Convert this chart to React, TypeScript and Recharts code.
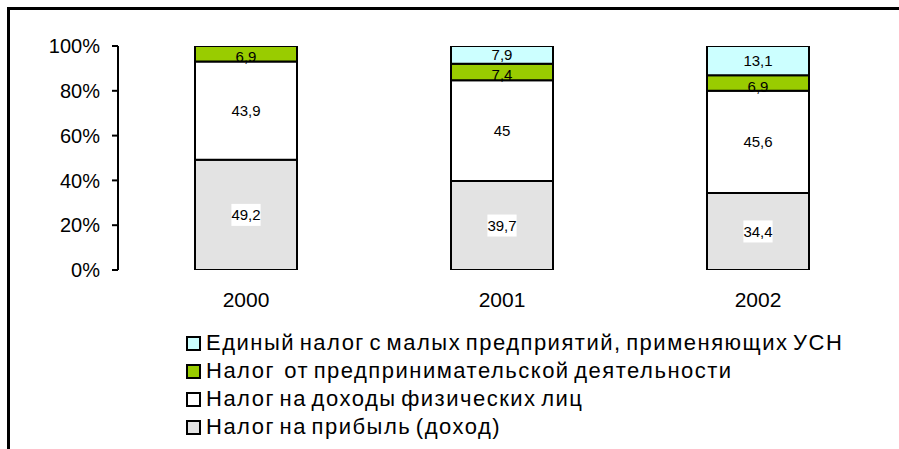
import React from 'react';
import { BarChart, Bar, XAxis, YAxis, Legend, LabelList } from 'recharts';

const years = ['2000', '2001', '2002'];
const profitTax = [49.2, 39.7, 34.4];
const incomeTax = [43.9, 45, 45.6];
const entrepreneurTax = [6.9, 7.4, 6.9];
const usnTax = [0, 7.9, 13.1];
const yTicks = [0, 20, 40, 60, 80, 100];

const seriesNames = {
  profit: 'Налог на прибыль (доход)',
  income: 'Налог на доходы физических лиц',
  entre: 'Налог  от предпринимательской деятельности',
  usn: 'Единый налог с малых предприятий, применяющих УСН',
};

const series = [
  { key: 'profit', name: seriesNames.profit, values: profitTax, color: '#e3e3e3', labelBg: true, dy: 0 },
  { key: 'income', name: seriesNames.income, values: incomeTax, color: '#ffffff', labelBg: false, dy: 0 },
  { key: 'entre', name: seriesNames.entre, values: entrepreneurTax, color: '#99cc00', labelBg: false, dy: 3 },
  { key: 'usn', name: seriesNames.usn, values: usnTax, color: '#ccffff', labelBg: false, dy: 0 },
];

const data = years.map((y, i) => {
  const row: any = { year: y };
  series.forEach((s) => {
    row[s.key] = s.values[i];
  });
  return row;
});

const FONT = '"Liberation Sans", Arial, sans-serif';

const fmt = (v: number) => String(v).replace('.', ',');

const makeLabel = (labelBg: boolean, dy: number) => (props: any) => {
  const vb = props.viewBox || props;
  const { x, y, width, height } = vb;
  const value = props.value;
  if (!value) return null;
  const text = fmt(value);
  const cx = x + width / 2;
  const cy = y + height / 2 + dy;
  const w = text.split('').reduce((a, c) => a + (c === ',' ? 0.278 : 0.556) * 15, 0);
  return (
    <g>
      {labelBg && <rect x={cx - w / 2} y={cy - 11} width={w} height={22} fill="#ffffff" />}
      <text
        x={cx}
        y={cy}
        textAnchor="middle"
        dominantBaseline="central"
        fontSize={15}
        fontFamily={FONT}
        fill="#000"
      >
        {text}
      </text>
    </g>
  );
};

const LegendContent = () => {
  const rows = [...series].reverse();
  return (
    <div style={{ position: 'relative', width: 899, height: 120, fontFamily: FONT }}>
      {rows.map((s) => (
        <div
          key={s.key}
          style={{
            display: 'flex',
            alignItems: 'center',
            height: 28,
            paddingLeft: 186,
          }}
        >
          <div
            style={{
              width: 15,
              height: 15,
              boxSizing: 'border-box',
              border: '2px solid #000',
              background: s.color,
              marginRight: 5,
              flexShrink: 0,
            }}
          />
          <span
            style={{
              fontSize: 22,
              lineHeight: '28px',
              whiteSpace: 'pre',
              color: '#000',
              letterSpacing: 1.5,
              wordSpacing: -3,
            }}
          >
            {s.name}
          </span>
        </div>
      ))}
    </div>
  );
};

export default function App() {
  return (
    <div
      style={{
        position: 'fixed',
        left: 0,
        top: 0,
        width: 899,
        height: 449,
        overflow: 'hidden',
        background: '#fff',
      }}
    >
      <div
        style={{
          position: 'absolute',
          left: 7,
          top: 7,
          width: 900,
          height: 450,
          borderTop: '3px solid #000',
          borderLeft: '3px solid #000',
        }}
      />
      <div style={{ position: 'absolute', left: 0, top: 0 }}>
        <BarChart
          width={899}
          height={449}
          data={data}
          margin={{ top: 46, right: 13, left: 0, bottom: 29 }}
          barSize={102}
        >
          <XAxis
            dataKey="year"
            axisLine={false}
            tickLine={false}
            tickSize={0}
            tickMargin={22}
            height={30}
            tick={{ fontSize: 21, fontFamily: FONT, fill: '#000' }}
            interval={0}
          />
          <YAxis
            domain={[0, 100]}
            ticks={yTicks}
            width={118}
            axisLine={{ stroke: '#000', strokeWidth: 2 }}
            tickLine={{ stroke: '#000', strokeWidth: 2 }}
            tickSize={6}
            tickMargin={12}
            tickFormatter={(v: number) => `${v}%`}
            tick={{ fontSize: 20, fontFamily: FONT, fill: '#000' }}
            allowDataOverflow
          />
          <Legend
            verticalAlign="bottom"
            content={<LegendContent />}
            wrapperStyle={{ top: 329, left: 0, bottom: 'auto', width: 899, height: 120 }}
          />
          {series.map((s) => (
            <Bar
              key={s.key}
              dataKey={s.key}
              name={s.name}
              stackId="a"
              fill={s.color}
              stroke="#000"
              strokeWidth={2}
              isAnimationActive={false}
            >
              <LabelList dataKey={s.key} content={makeLabel(s.labelBg, s.dy)} />
            </Bar>
          ))}
        </BarChart>
      </div>
    </div>
  );
}
